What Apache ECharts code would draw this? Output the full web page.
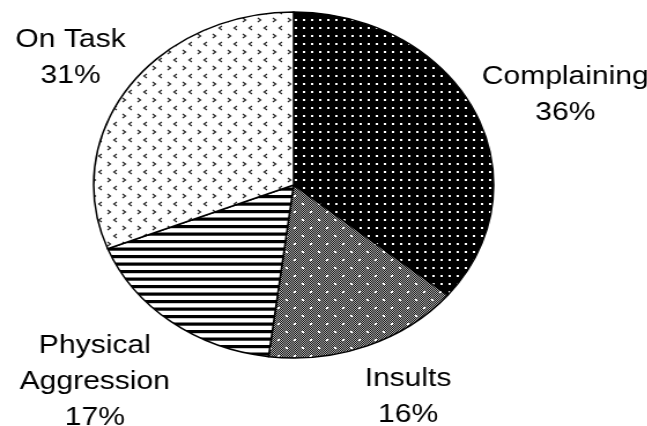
<!DOCTYPE html>
<html>
<head>
<meta charset="utf-8">
<script src="https://cdn.jsdelivr.net/npm/echarts@6/dist/echarts.min.js"></script>
<style>
  html, body { margin: 0; padding: 0; background: #fff; overflow: hidden; }
  /* the original pie is an ellipse, so the whole chart is stretched sideways */
  #chart { width: 560px; height: 426px; transform: scaleX(1.156); transform-origin: 0 0; }
</style>
</head>
<body>
<div id="chart"></div>
<script>
const categories = ['Complaining', 'Insults', 'Physical\nAggression', 'On Task']
const values = [36, 16, 17, 31]

// label spots (pre-stretch px)
const labelPos = [[489, 95], [353, 397], [82, 382], [61, 58]]

function tile(w, h, draw) {
  let c = document.createElement('canvas')
  c.width = w
  c.height = h
  let ctx = c.getContext('2d')
  draw(ctx)
  return { image: c, repeat: 'repeat' }
}

// black with white dots
let dotsPattern = tile(7, 8, (ctx) => {
  ctx.fillStyle = '#000'
  ctx.fillRect(0, 0, 7, 8)
  ctx.fillStyle = '#fff'
  ctx.fillRect(3, 3, 2, 2)
})

// fine dark checker with white dots
let checkPattern = tile(14, 16, (ctx) => {
  ctx.fillStyle = '#b0b0b0'
  ctx.fillRect(0, 0, 14, 16)
  ctx.fillStyle = '#111'
  for (let y = 0; y < 16; y++) {
    for (let x = 0; x < 14; x++) {
      if ((x + y) % 2 === 0) ctx.fillRect(x, y, 1, 1)
    }
  }
  ctx.fillStyle = '#fff'
  ctx.fillRect(2, 3, 2, 2)
  ctx.fillRect(9, 11, 2, 2)
})

// horizontal stripes
let stripePattern = tile(4, 15, (ctx) => {
  ctx.fillStyle = '#fff'
  ctx.fillRect(0, 0, 4, 15)
  ctx.fillStyle = '#000'
  ctx.fillRect(0, 0, 4, 3.2)
  ctx.fillRect(0, 7.5, 4, 3.2)
})

// little > and < marks, rows alternate
let chevronPattern = tile(13, 16, (ctx) => {
  ctx.fillStyle = '#fff'
  ctx.fillRect(0, 0, 13, 16)
  ctx.strokeStyle = '#222'
  ctx.lineWidth = 1.2
  let mark = (x, y, dir) => {
    ctx.beginPath()
    ctx.moveTo(x, y - 2)
    ctx.lineTo(x + 2.5 * dir, y)
    ctx.lineTo(x, y + 2)
    ctx.stroke()
  }
  mark(2, 4, 1)
  mark(10, 12, -1)
})

const fills = [dotsPattern, checkPattern, stripePattern, chevronPattern]

let myChart = echarts.init(document.getElementById('chart'))
let option = {
  animation: false,
  backgroundColor: '#fff',
  series: [
    {
      type: 'pie',
      center: [254, 185],
      radius: [0, 173],
      startAngle: 90,
      clockwise: true,
      data: values.map((v, i) => ({
        name: categories[i],
        value: v,
        itemStyle: { color: fills[i] },
      })),
      itemStyle: { borderColor: '#000', borderWidth: 1.5 },
      labelLine: { show: false },
      label: {
        show: true,
        position: 'outside',
        overflow: 'none',
        formatter: (p) => p.name + '\n' + p.value + '%',
        fontFamily: 'Liberation Sans',
        fontSize: 26,
        lineHeight: 36,
        color: '#000',
        align: 'center',
      },
      labelLayout: (params) => ({
        x: labelPos[params.dataIndex][0],
        y: labelPos[params.dataIndex][1],
        align: 'center',
        verticalAlign: 'middle',
      }),
      emphasis: { disabled: true },
    },
  ],
}
myChart.setOption(option)
</script>
</body>
</html>
